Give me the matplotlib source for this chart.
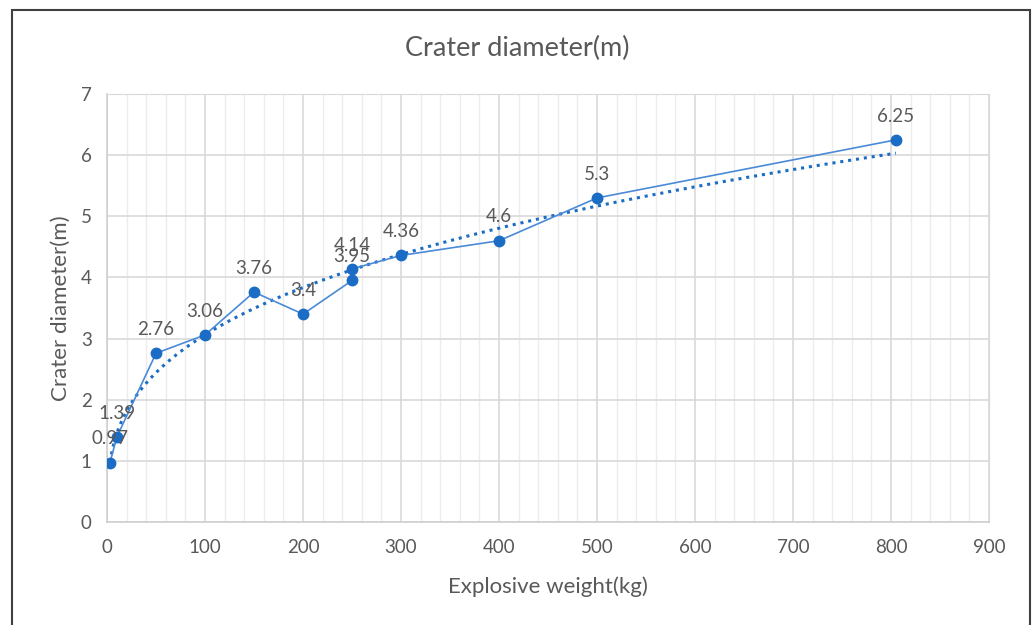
import matplotlib
matplotlib.use("Agg")
import matplotlib.pyplot as plt
from matplotlib.patches import Rectangle
from matplotlib.ticker import MultipleLocator
import numpy as np

# explosive weight (kg) and measured crater diameter (m), in test order
weight = [3, 10, 50, 100, 150, 200, 250, 250, 300, 400, 500, 805]
diameter = [0.97, 1.39, 2.76, 3.06, 3.76, 3.4, 3.95, 4.14, 4.36, 4.6, 5.3, 6.25]

plt.rcParams['font.family'] = ['Lato', 'DejaVu Sans']
text_grey = '#595959'
blue = '#1a6cc4'

fig = plt.figure(figsize=(10.35, 6.25), dpi=100)
ax = fig.add_axes([0.1034, 0.1648, 0.8522, 0.6848])

x = np.array(weight, dtype=float)
y = np.array(diameter, dtype=float)

# power trendline y = a * x^b, least squares in log space
b, log_a = np.polyfit(np.log(x), np.log(y), 1)
xt = np.linspace(x.min(), x.max(), 300)
yt = np.exp(log_a) * xt ** b
ax.plot(xt, yt, linestyle=(0, (1, 1.6)), color=blue, linewidth=2.2, zorder=3)

ax.plot(x, y, color='#4a8ad6', linewidth=1.2, marker='o', markersize=7.5,
        markerfacecolor=blue, markeredgecolor=blue, zorder=4)

for xi, yi in zip(weight, diameter):
    ax.annotate('{:g}'.format(yi), (xi, yi), xytext=(0, 11), textcoords='offset points',
                ha='center', va='bottom', fontsize=13.5, color=text_grey, zorder=5)

ax.set_xlim(0, 900)
ax.set_ylim(0, 7)
ax.xaxis.set_major_locator(MultipleLocator(100))
ax.xaxis.set_minor_locator(MultipleLocator(20))
ax.yaxis.set_major_locator(MultipleLocator(1))
ax.grid(which='major', color='#d9d9d9', linewidth=1.2)
ax.grid(which='minor', axis='x', color='#ececec', linewidth=1.0)
ax.set_axisbelow(True)
for side in ['top', 'right']:
    ax.spines[side].set_color('#d9d9d9')
for side in ['left', 'bottom']:
    ax.spines[side].set_color('#cfcfcf')
    ax.spines[side].set_linewidth(1.2)
ax.tick_params(which='both', length=0, labelsize=13.5, colors=text_grey)
ax.tick_params(axis='x', pad=12)
ax.tick_params(axis='y', pad=11)

ax.set_xlabel('Explosive weight(kg)', fontsize=16, color=text_grey, labelpad=15)
ax.set_ylabel('Crater diameter(m)', fontsize=16, color=text_grey, labelpad=7)
fig.text(0.5, 0.922, 'Crater diameter(m)', ha='center', va='center',
         fontsize=19.5, color=text_grey)

# chart area border
fig.patches.append(Rectangle((12 / 1035, -0.05), 1018 / 1035, 1.05 - 10 / 625,
                             transform=fig.transFigure, fill=False,
                             edgecolor='#404040', linewidth=1.5))

plt.savefig('out.png', dpi=100)
